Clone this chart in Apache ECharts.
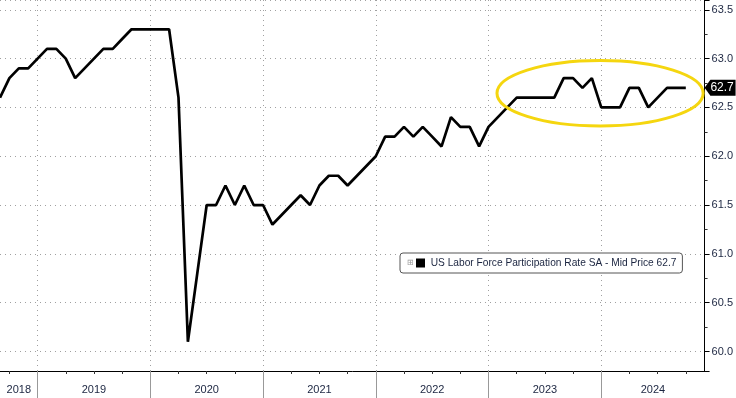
<!DOCTYPE html>
<html>
<head>
<meta charset="utf-8">
<title>US Labor Force Participation Rate</title>
<script src="https://cdn.jsdelivr.net/npm/echarts@6.0.0/dist/echarts.min.js"></script>
<style>
    html, body { margin: 0; padding: 0; background: #fff; }
    #chart { width: 736px; height: 398px; }
</style>
</head>
<body>
<div id="chart"></div>
<script>
    // monthly readings, one row per year
    var months = [
        '2018-08', '2018-09', '2018-10', '2018-11', '2018-12',
        '2019-01', '2019-02', '2019-03', '2019-04', '2019-05', '2019-06', '2019-07', '2019-08', '2019-09', '2019-10', '2019-11', '2019-12',
        '2020-01', '2020-02', '2020-03', '2020-04', '2020-05', '2020-06', '2020-07', '2020-08', '2020-09', '2020-10', '2020-11', '2020-12',
        '2021-01', '2021-02', '2021-03', '2021-04', '2021-05', '2021-06', '2021-07', '2021-08', '2021-09', '2021-10', '2021-11', '2021-12',
        '2022-01', '2022-02', '2022-03', '2022-04', '2022-05', '2022-06', '2022-07', '2022-08', '2022-09', '2022-10', '2022-11', '2022-12',
        '2023-01', '2023-02', '2023-03', '2023-04', '2023-05', '2023-06', '2023-07', '2023-08', '2023-09', '2023-10', '2023-11', '2023-12',
        '2024-01', '2024-02', '2024-03', '2024-04', '2024-05', '2024-06', '2024-07', '2024-08', '2024-09'
    ];
    var values = [
        62.6, 62.8, 62.9, 62.9, 63.0,
        63.1, 63.1, 63.0, 62.8, 62.9, 63.0, 63.1, 63.1, 63.2, 63.3, 63.3, 63.3,
        63.3, 63.3, 62.6, 60.1, 60.8, 61.5, 61.5, 61.7, 61.5, 61.7, 61.5, 61.5,
        61.3, 61.4, 61.5, 61.6, 61.5, 61.7, 61.8, 61.8, 61.7, 61.8, 61.9, 62.0,
        62.2, 62.2, 62.3, 62.2, 62.3, 62.2, 62.1, 62.4, 62.3, 62.3, 62.1, 62.3,
        62.4, 62.5, 62.6, 62.6, 62.6, 62.6, 62.6, 62.8, 62.8, 62.7, 62.8, 62.5,
        62.5, 62.5, 62.7, 62.7, 62.5, 62.6, 62.7, 62.7, 62.7
    ];
    var seriesName = 'US Labor Force Participation Rate SA - Mid Price';
    var years = ['2018', '2019', '2020', '2021', '2022', '2023', '2024'];

    // x runs in months since Jan 2018; a reading sits at the end of its month
    var xMin = 8, xMax = 83;
    var yMin = 59.8, yMax = 63.6;
    // highlighted stretch (yellow ring), in data units
    var ringX = [60.9, 82.85];
    var ringY = [62.31, 62.98];

    var inkColor = '#1b2540';
    var gridColor = '#a0a0a0';

    function monthPos(s) {
        var p = s.split('-');
        return (Number(p[0]) - 2018) * 12 + Number(p[1]);
    }

    var points = months.map(function (m, i) { return [monthPos(m), values[i]]; });
    var lastVal = values[values.length - 1];

    // year boundaries, quarter ticks and centred year labels
    var yearEdges = [], quarterTicks = [], yearMids = [];
    for (var q = 9; q < xMax; q += 3) {
        if (q % 12 !== 0) quarterTicks.push(q);
    }
    years.forEach(function (y, i) {
        var a = Math.max(i * 12, xMin), b = Math.min(i * 12 + 12, xMax);
        if (i > 0) yearEdges.push(i * 12);
        yearMids.push((a + b) / 2);
    });

    var chart = echarts.init(document.getElementById('chart'));

    chart.setOption({
        animation: false,
        backgroundColor: '#fff',
        textStyle: { fontFamily: 'Liberation Sans' },
        grid: { left: 0, right: 31, top: 0, bottom: 27 },
        legend: {
            left: 400,
            top: 253,
            data: [seriesName],
            icon: 'rect',
            itemWidth: 0,
            itemHeight: 0,
            backgroundColor: '#fff',
            borderColor: '#555',
            borderWidth: 1,
            borderRadius: 3,
            padding: [5, 6, 5, 2],
            formatter: function (name) {
                return '{p|\u229e}{s|}  ' + name + ' ' + lastVal.toFixed(1);
            },
            textStyle: {
                fontSize: 10.2,
                color: inkColor,
                rich: {
                    p: { fontSize: 8, color: '#999', padding: [0, 2, 0, 0] },
                    s: { width: 9, height: 9, backgroundColor: '#000' }
                }
            }
        },
        xAxis: [{
            type: 'value',
            min: xMin,
            max: xMax,
            minInterval: 12,
            maxInterval: 12,
            axisLine: { show: true, lineStyle: { color: '#000', width: 1 } },
            axisTick: { show: true, customValues: quarterTicks, length: 3, lineStyle: { color: '#333' } },
            axisLabel: {
                customValues: yearMids,
                margin: 13,
                fontSize: 11,
                color: inkColor,
                formatter: function (v) { return String(2018 + Math.floor(v / 12)); }
            },
            splitLine: { show: false }
        }, {
            type: 'value',
            min: xMin,
            max: xMax,
            minInterval: 12,
            maxInterval: 12,
            position: 'bottom',
            axisLine: { show: false },
            axisLabel: { show: false },
            splitLine: { show: true, lineStyle: { color: gridColor, type: [1, 4] } },
            axisTick: { show: true, customValues: yearEdges, length: 27, lineStyle: { color: '#999' } }
        }],
        yAxis: {
            type: 'value',
            position: 'right',
            min: yMin,
            max: yMax,
            minInterval: 0.5,
            maxInterval: 0.5,
            axisLine: { show: true, lineStyle: { color: '#000', width: 1 } },
            axisTick: { show: true, length: 5, lineStyle: { color: '#000' } },
            minorTick: { show: true, splitNumber: 2, length: 3, lineStyle: { color: '#333' } },
            axisLabel: {
                margin: 7,
                fontSize: 11,
                color: inkColor,
                showMinLabel: false,
                showMaxLabel: false,
                formatter: function (v) {
                    return Math.abs(v * 2 - Math.round(v * 2)) < 1e-6 ? v.toFixed(1) : '';
                }
            },
            splitLine: { show: true, lineStyle: { color: gridColor, type: [1, 4] } }
        },
        series: [{
            name: seriesName,
            type: 'line',
            data: points,
            showSymbol: false,
            clip: false,
            color: '#000',
            lineStyle: { color: '#000', width: 2.7 },
            markPoint: {
                symbol: 'path://M0,8 L6,0 L32,0 L32,16 L6,16 Z',
                symbolSize: [31, 16],
                symbolKeepAspect: false,
                symbolOffset: [15.5, 0],
                itemStyle: { color: '#000' },
                label: {
                    show: true,
                    color: '#fff',
                    fontSize: 12,
                    offset: [2, 0],
                    formatter: function (p) { return p.value.toFixed(1); }
                },
                data: [{ coord: [xMax, lastVal], value: lastVal }]
            }
        }]
    });

    // yellow ring placed from data units
    var p0 = chart.convertToPixel({ xAxisIndex: 0, yAxisIndex: 0 }, [ringX[0], ringY[1]]);
    var p1 = chart.convertToPixel({ xAxisIndex: 0, yAxisIndex: 0 }, [ringX[1], ringY[0]]);
    chart.setOption({
        graphic: [{
            type: 'ellipse',
            shape: {
                cx: (p0[0] + p1[0]) / 2,
                cy: (p0[1] + p1[1]) / 2,
                rx: (p1[0] - p0[0]) / 2,
                ry: (p1[1] - p0[1]) / 2
            },
            style: { fill: 'none', stroke: '#f5d60f', lineWidth: 3 },
            z: 10
        }]
    });
</script>
</body>
</html>
